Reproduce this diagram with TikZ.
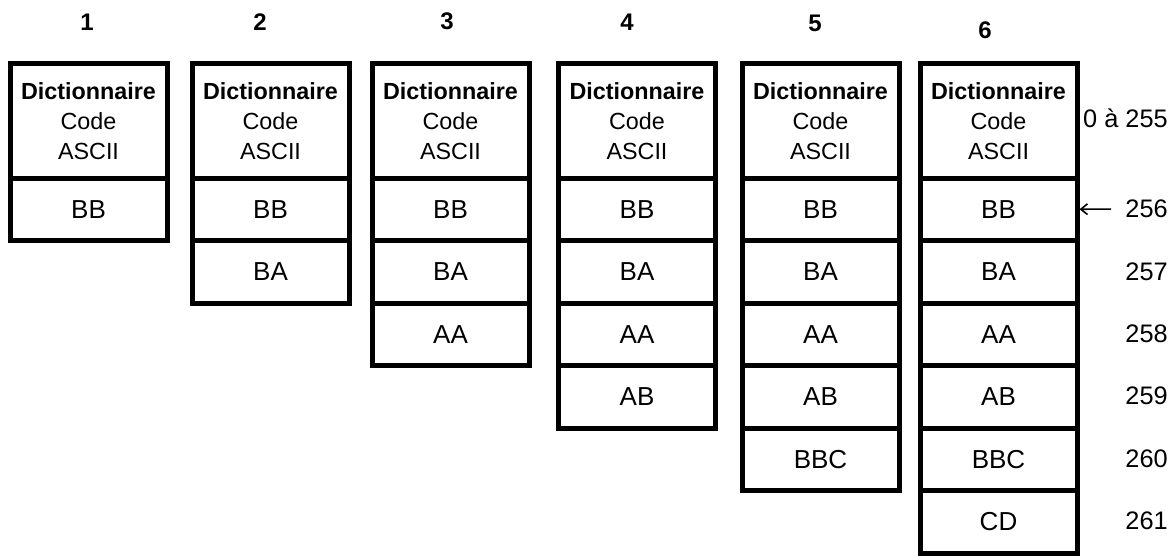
\documentclass[tikz,border=0pt]{standalone}
\usepackage{fontspec}
\setmainfont{Liberation Sans}
\usetikzlibrary{arrows.meta,positioning}

\tikzset{
  dict head/.style={draw, line width=3.75pt, minimum width=117.75pt,
    minimum height=85.875pt, inner sep=0pt, outer sep=0pt, anchor=north,
    align=center, font=\fontsize{17.5pt}{22.5pt}\selectfont},
  dict cell/.style={draw, line width=3.75pt, minimum width=117.75pt,
    minimum height=46.875pt, inner sep=0pt, outer sep=0pt,
    font=\fontsize{19.5pt}{22pt}\selectfont},
  step num/.style={font=\fontsize{18pt}{20pt}\selectfont\bfseries},
  code num/.style={anchor=east, inner sep=0pt, font=\fontsize{19pt}{22pt}\selectfont},
}

\begin{document}
\begin{tikzpicture}[x=0.75pt,y=-0.75pt]
    \useasboundingbox (0,0) rectangle (1171,557);
    % one dictionary per step, growing by one entry each time
    \foreach \k/\x/\lx/\ly in {1/88.5/87/22, 2/270.5/260/22, 3/450.5/447/21,
                               4/637/627/22, 5/820.5/815/23, 6/998.5/985/30} {
      \node[step num] (n\k) at (\lx,\ly) {\k};
      \node[dict head] (h\k) at (\x,63.5) {{\bfseries Dictionnaire}\\Code\\ASCII};
      \foreach \r/\txt in {1/BB,2/BA,3/AA,4/AB,5/BBC,6/CD} {
        \ifnum\r>\k\relax\else
          \ifnum\r=1
            \node[dict cell, below=0pt of h\k] (c\k-\r) {\txt};
          \else
            \pgfmathtruncatemacro{\up}{\r-1}
            \node[dict cell, below=0pt of c\k-\up] (c\k-\r) {\txt};
          \fi
        \fi
      }
    }
    % codes of the last dictionary
    \node[code num] (l255) at (1168,118) {0 à 255};
    \foreach \y/\v in {209/256, 272/257, 334/258, 396/259, 459/260, 521/261} {
      \node[code num] (l\v) at (1168,\y) {\v};
    }
    \draw[line width=1.2pt, -{Straight Barb[length=5pt,width=8pt]},
          shorten <=10.5pt, shorten >=1.9pt] (l256.west) -- (c6-1.east);
  \end{tikzpicture}
\end{document}
